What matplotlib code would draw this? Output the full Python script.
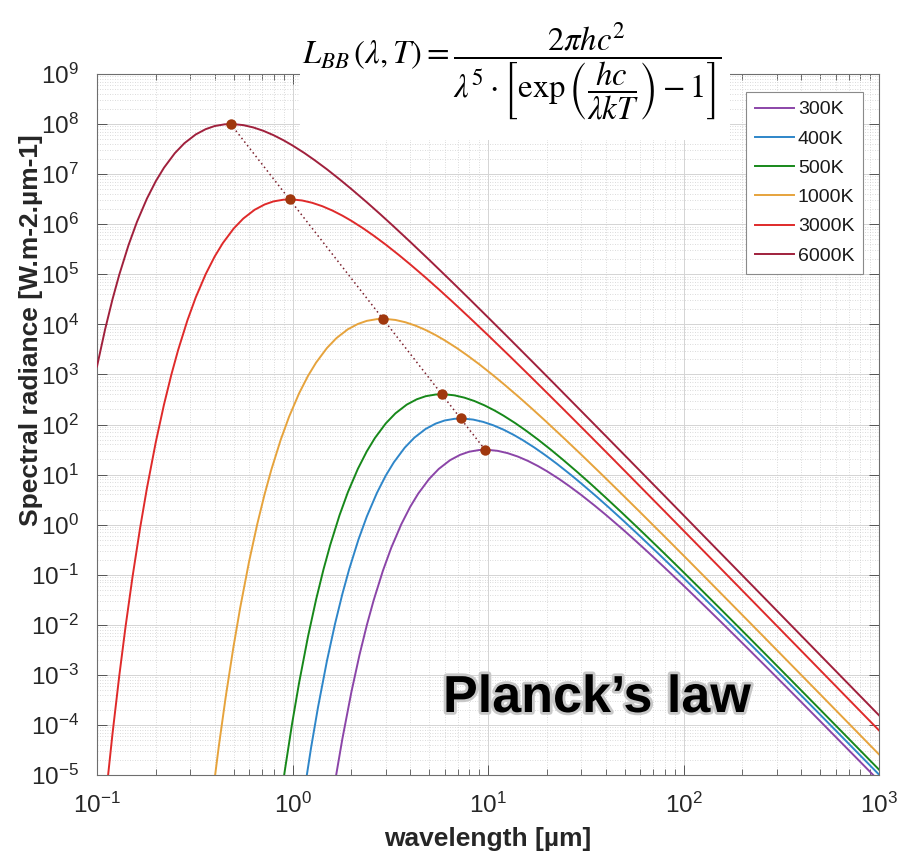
import numpy as np
import matplotlib
matplotlib.use("Agg")
import matplotlib.pyplot as plt
import matplotlib.patheffects as pe
from matplotlib.patches import Rectangle
from matplotlib.ticker import LogLocator, NullFormatter

plt.rcParams['font.family'] = ['Liberation Sans', 'DejaVu Sans']
plt.rcParams['mathtext.fontset'] = 'custom'
plt.rcParams['mathtext.rm'] = 'Liberation Sans'
plt.rcParams['mathtext.it'] = 'Liberation Sans:italic'
plt.rcParams['mathtext.bf'] = 'Liberation Sans:bold'

# ---------------- data (radiance read as decades on the log axis) -------------
labels = ['300K', '400K', '500K', '1000K', '3000K', '6000K']

wavelength_300K = [1.52, 1.66, 1.8, 2.0, 2.2, 2.4, 2.6, 2.9, 3.2, 3.6, 4.0, 4.4, 5.0, 5.6, 6.4, 7.2, 8.0,
                   9.0, 10, 11.2, 12.6, 14.2, 16, 18, 20, 23, 26, 30, 35, 40, 48, 56, 66, 80, 100, 130,
                   160, 200, 260, 340, 440, 600, 800, 1100]
log10_radiance_300K = [-6.039, -5.075, -4.274, -3.346, -2.606, -2.006, -1.513, -0.921, -0.461, 0.006,
                       0.356, 0.622, 0.913, 1.113, 1.288, 1.394, 1.456, 1.490, 1.494, 1.474, 1.428, 1.360,
                       1.273, 1.171, 1.068, 0.917, 0.772, 0.592, 0.385, 0.198, -0.067, -0.299, -0.553,
                       -0.857, -1.216, -1.646, -1.991, -2.365, -2.808, -3.264, -3.705, -4.238, -4.733,
                       -5.283]

wavelength_400K = [1.14, 1.245, 1.35, 1.5, 1.65, 1.8, 1.95, 2.175, 2.4, 2.7, 3.0, 3.3, 3.75, 4.2, 4.8,
                   5.4, 6.0, 6.75, 7.5, 8.4, 9.45, 10.65, 12, 13.5, 15, 17.25, 19.5, 22.5, 26.25, 30, 36,
                   42, 49.5, 60, 75, 97.5, 120, 150, 195, 255, 330, 450, 600, 825, 1125]
log10_radiance_400K = [-5.415, -4.451, -3.650, -2.722, -1.982, -1.382, -0.889, -0.297, 0.163, 0.630,
                       0.980, 1.246, 1.537, 1.737, 1.912, 2.018, 2.080, 2.114, 2.118, 2.098, 2.052, 1.984,
                       1.897, 1.795, 1.692, 1.541, 1.396, 1.216, 1.009, 0.822, 0.557, 0.325, 0.071,
                       -0.233, -0.592, -1.022, -1.367, -1.741, -2.184, -2.640, -3.081, -3.614, -4.109,
                       -4.659, -5.195]

wavelength_500K = [0.84, 0.912, 0.996, 1.08, 1.2, 1.32, 1.44, 1.56, 1.74, 1.92, 2.16, 2.4, 2.64, 3.0,
                   3.36, 3.84, 4.32, 4.8, 5.4, 6.0, 6.72, 7.56, 8.52, 9.6, 10.8, 12, 13.8, 15.6, 18, 21,
                   24, 28.8, 33.6, 39.6, 48, 60, 78, 96, 120, 156, 204, 264, 360, 480, 660, 900, 1200]
log10_radiance_500K = [-5.926, -4.930, -3.966, -3.165, -2.237, -1.497, -0.897, -0.404, 0.188, 0.648,
                       1.115, 1.465, 1.731, 2.022, 2.222, 2.397, 2.503, 2.565, 2.599, 2.603, 2.583, 2.537,
                       2.469, 2.382, 2.280, 2.177, 2.026, 1.881, 1.701, 1.494, 1.307, 1.042, 0.810,
                       0.556, 0.252, -0.107, -0.537, -0.882, -1.256, -1.699, -2.155, -2.596, -3.129,
                       -3.624, -4.174, -4.710, -5.208]

wavelength_1000K = [0.36, 0.39, 0.42, 0.456, 0.498, 0.54, 0.6, 0.66, 0.72, 0.78, 0.87, 0.96, 1.08, 1.2,
                    1.32, 1.5, 1.68, 1.92, 2.16, 2.4, 2.7, 3.0, 3.36, 3.78, 4.26, 4.8, 5.4, 6.0, 6.9, 7.8,
                    9.0, 10.5, 12, 14.4, 16.8, 19.8, 24, 30, 39, 48, 60, 78, 102, 132, 180, 240, 330,
                    450, 600, 900, 1200]
log10_radiance_1000K = [-6.566, -5.404, -4.421, -3.425, -2.461, -1.660, -0.732, 0.008, 0.608, 1.101,
                        1.693, 2.153, 2.620, 2.970, 3.236, 3.527, 3.727, 3.902, 4.008, 4.070, 4.104,
                        4.108, 4.088, 4.042, 3.974, 3.887, 3.785, 3.682, 3.531, 3.386, 3.206, 2.999,
                        2.812, 2.547, 2.315, 2.061, 1.757, 1.398, 0.968, 0.623, 0.249, -0.194, -0.650,
                        -1.091, -1.624, -2.119, -2.669, -3.205, -3.703, -4.406, -4.904]

wavelength_3000K = [0.11, 0.12, 0.13, 0.14, 0.152, 0.166, 0.18, 0.2, 0.22, 0.24, 0.26, 0.29, 0.32,
                    0.36, 0.4, 0.44, 0.5, 0.56, 0.64, 0.72, 0.8, 0.9, 1.0, 1.12, 1.26, 1.42, 1.6, 1.8,
                    2.0, 2.3, 2.6, 3.0, 3.5, 4.0, 4.8, 5.6, 6.6, 8, 10, 13, 16, 20, 26, 34, 44, 60, 80,
                    110, 150, 200, 300, 400, 600, 1000]
log10_radiance_3000K = [-5.569, -4.180, -3.018, -2.035, -1.039, -0.075, 0.726, 1.654, 2.394, 2.994,
                        3.487, 4.079, 4.539, 5.006, 5.356, 5.622, 5.913, 6.113, 6.288, 6.394, 6.456,
                        6.490, 6.494, 6.474, 6.428, 6.360, 6.273, 6.171, 6.068, 5.917, 5.772, 5.592,
                        5.385, 5.198, 4.933, 4.701, 4.447, 4.143, 3.784, 3.354, 3.009, 2.635, 2.192,
                        1.736, 1.295, 0.762, 0.267, -0.283, -0.819, -1.317, -2.020, -2.518, -3.222,
                        -4.109]

wavelength_6000K = [0.1, 0.11, 0.12, 0.13, 0.145, 0.16, 0.18, 0.2, 0.22, 0.25, 0.28, 0.32, 0.36, 0.4,
                    0.45, 0.5, 0.56, 0.63, 0.71, 0.8, 0.9, 1.0, 1.15, 1.3, 1.5, 1.75, 2.0, 2.4, 2.8, 3.3,
                    4, 5, 6.5, 8, 10, 13, 17, 22, 30, 40, 55, 75, 100, 150, 200, 300, 500, 1000]
log10_radiance_6000K = [3.159, 3.899, 4.499, 4.992, 5.584, 6.044, 6.511, 6.861, 7.127, 7.418, 7.618,
                        7.793, 7.899, 7.961, 7.995, 7.999, 7.979, 7.933, 7.865, 7.778, 7.676, 7.573,
                        7.422, 7.277, 7.097, 6.890, 6.703, 6.438, 6.206, 5.952, 5.648, 5.289, 4.859,
                        4.514, 4.140, 3.697, 3.241, 2.800, 2.267, 1.772, 1.222, 0.686, 0.188, -0.515,
                        -1.013, -1.717, -2.604, -3.807]

peak_wavelength = [9.66, 7.24, 5.80, 2.90, 0.966, 0.483]
peak_radiance = [31.3, 132, 402, 1.29e4, 3.13e6, 1.0e8]

colors = ['#8B45A8', '#2E86C9', '#17881A', '#E6A33C', '#DF2A2A', '#A0203C']

series = [
    (wavelength_300K, log10_radiance_300K),
    (wavelength_400K, log10_radiance_400K),
    (wavelength_500K, log10_radiance_500K),
    (wavelength_1000K, log10_radiance_1000K),
    (wavelength_3000K, log10_radiance_3000K),
    (wavelength_6000K, log10_radiance_6000K),
]

# ---------------- figure -------------
W, H = 901, 859
fig = plt.figure(figsize=(W / 100, H / 100), dpi=100)
ax = fig.add_axes([97 / W, 1 - 775 / H, (879 - 97) / W, (775 - 74) / H])

ax.set_xscale('log')
ax.set_yscale('log')
ax.set_xlim(0.1, 1000)
ax.set_ylim(1e-5, 1e9)

# grid
ax.xaxis.set_minor_locator(LogLocator(base=10, subs=np.arange(2, 10)))
ax.yaxis.set_major_locator(LogLocator(base=10, numticks=20))
ax.yaxis.set_minor_locator(LogLocator(base=10, subs=np.arange(2, 10), numticks=20))
ax.xaxis.set_minor_formatter(NullFormatter())
ax.yaxis.set_minor_formatter(NullFormatter())
ax.grid(True, which='major', color='#d4d4d4', linestyle='-', linewidth=0.7)
ax.grid(True, which='minor', color='#cfcfcf', linestyle=(0, (1, 2)), linewidth=0.6)
ax.set_axisbelow(True)

for (wl, lg), c, lab in zip(series, colors, labels):
    ax.plot(wl, 10 ** np.asarray(lg), color=c, lw=1.4, label=lab, zorder=3)

ax.plot(peak_wavelength, peak_radiance, color='#7A1F2B', lw=1.1, linestyle=(0, (1, 2)), zorder=4)
ax.plot(peak_wavelength, peak_radiance, 'o', color='#A0380E', markersize=7.5, markeredgewidth=0, zorder=5)

# ticks
ax.tick_params(which='both', direction='in', top=True, right=True, colors='#555555',
               labelcolor='#262626', labelsize=17.5)
ax.tick_params(axis='x', which='major', length=7, width=0.7, pad=13)
ax.tick_params(axis='y', which='major', length=7, width=0.7, pad=13)
ax.tick_params(which='minor', length=4, width=0.6)
ax.tick_params(axis='y', which='minor', length=0)
for s in ax.spines.values():
    s.set_color('#6e6e6e')
    s.set_linewidth(0.8)

ax.set_xlabel('wavelength [µm]', fontsize=19, fontweight='bold', color='#262626', labelpad=6)
ax.set_ylabel('Spectral radiance [W.m-2.µm-1]', fontsize=19, fontweight='bold', color='#262626')
# label sits high on the left side, above the negative-exponent tick labels
ax.yaxis.set_label_coords((43 - 97) / 782, (775 - 330) / 701, transform=ax.transAxes)

leg = ax.legend(loc='upper right', bbox_to_anchor=(863 / W, 1 - 92 / H), bbox_transform=fig.transFigure,
                fontsize=14, frameon=True, fancybox=False, edgecolor='#8a8a8a', framealpha=1,
                handlelength=2.0, handletextpad=0.2, labelspacing=0.6, borderpad=0.45, borderaxespad=0)
leg.get_frame().set_linewidth(0.8)
for t in leg.get_texts():
    t.set_color('#1a1a1a')

# big title text
fig.text(443 / W, 1 - 712 / H, 'Planck\u2019s law', fontsize=37.5, fontweight='bold', color='black',
         ha='left', va='baseline',
         path_effects=[pe.withStroke(linewidth=4, foreground='#c8c8c8')])

# equation on a white box
fig.add_artist(Rectangle((300 / W, 1 - 140 / H), 430 / W, 140 / H, transform=fig.transFigure,
                         facecolor='white', edgecolor='none', zorder=5))
eq = (r'$L_{BB}\,(\lambda,T)=\dfrac{2\pi hc^2}'
      r'{\lambda^5\cdot\left[\exp\left(\dfrac{hc}{\lambda kT}\right)-1\right]}$')
fig.text(512 / W, 1 - 72 / H, eq, fontsize=23.5, math_fontfamily='stix', ha='center', va='center',
         color='black', zorder=6)

fig.savefig('out.png', dpi=100)
